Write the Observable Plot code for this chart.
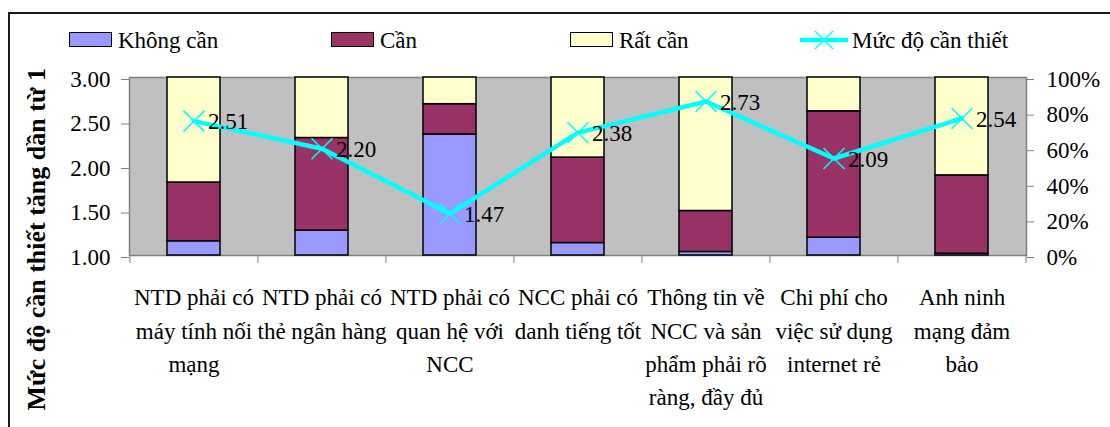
<!DOCTYPE html>
<html>
<head>
<meta charset="utf-8">
<script src="https://cdn.jsdelivr.net/npm/d3@7"></script>
<script src="https://cdn.jsdelivr.net/npm/@observablehq/plot@0.6"></script>
<style>
  body { margin: 0; background: #fff; }
  #wrap { position: relative; width: 1110px; height: 427px; overflow: hidden;
          font-family: "Liberation Serif", "Times New Roman", serif; color: #000; }
  #border { position: absolute; left: 8px; top: 12px; right: -10px; bottom: -10px;
            border-left: 2px solid #1a1a1a; border-top: 2px solid #1a1a1a;
            pointer-events: none; z-index: 2; }
  #legend { position: relative; height: 60px; font-size: 23px; }
  #legend .sw { position: absolute; top: 32px; width: 43px; height: 15px;
                box-sizing: border-box; border: 1.5px solid #000; }
  #legend .lb { position: absolute; top: 29px; line-height: 1; white-space: nowrap; }
  #legend svg { position: absolute; }
  #chart svg { display: block; overflow: visible; }
</style>
</head>
<body>
<div id="wrap">
  <div id="border"></div>
  <div id="legend"></div>
  <div id="chart"></div>
</div>
<script>
// Categories (x axis) – line breaks as laid out under each column
const categories = [
  "NTD phải có\nmáy tính nối\nmạng",
  "NTD phải có\nthẻ ngân hàng",
  "NTD phải có\nquan hệ với\nNCC",
  "NCC phải có\ndanh tiếng tốt",
  "Thông tin về\nNCC và sản\nphẩm phải rõ\nràng, đầy đủ",
  "Chi phí cho\nviệc sử dụng\ninternet rẻ",
  "Anh ninh\nmạng đảm\nbảo"
];

// Share of answers per level (percent, right axis)
const khongCan = [8, 14, 68, 7, 2, 10, 1];
const can      = [33, 52, 17, 48, 23, 71, 44];
const ratCan   = [59, 34, 15, 45, 75, 19, 55];

// Average necessity score, 1 to 3 (left axis)
const mucDo = [2.51, 2.20, 1.47, 2.38, 2.73, 2.09, 2.54];

const levels = ["Không cần", "Cần", "Rất cần"];
const levelColors = ["#9999FF", "#993366", "#FFFFCC"];
const lineName = "Mức độ cần thiết";
const lineColor = "#00FFFF";

const leftTicks = [1.0, 1.5, 2.0, 2.5, 3.0];
const rightTicks = [0, 20, 40, 60, 80, 100];
const axisTitle = "Mức độ cần thiết tăng dần từ 1";

// Both axes share one vertical scale in percent; scores 1..3 map onto 0..100
const toPct = v => (v - 1) / 2 * 100;
const fromPct = p => 1 + p / 50;

const series = [khongCan, can, ratCan];
const stacked = categories.flatMap((c, i) =>
  levels.map((lv, j) => ({cat: c, level: lv, pct: series[j][i]})));
const points = categories.map((c, i) => ({cat: c, v: mucDo[i]}));

// Legend
const legend = document.getElementById("legend");
const legendItems = [
  {x: 69, label: levels[0], color: levelColors[0]},
  {x: 331, label: levels[1], color: levelColors[1]},
  {x: 570, label: levels[2], color: levelColors[2]}
];
for (const it of legendItems) {
  const sw = document.createElement("div");
  sw.className = "sw";
  sw.style.left = it.x + "px";
  sw.style.background = it.color;
  legend.appendChild(sw);
  const lb = document.createElement("span");
  lb.className = "lb";
  lb.style.left = (it.x + 49) + "px";
  lb.textContent = it.label;
  legend.appendChild(lb);
}
{
  const ns = "http://www.w3.org/2000/svg";
  const s = document.createElementNS(ns, "svg");
  s.setAttribute("width", 50); s.setAttribute("height", 22);
  s.style.left = "799px"; s.style.top = "29px";
  s.innerHTML = `<line x1="1" x2="49" y1="11" y2="11" stroke="${lineColor}" stroke-width="4.5"/>
    <path d="M16,2L34,20M16,20L34,2" stroke="${lineColor}" stroke-width="1.5" fill="none"/>`;
  legend.appendChild(s);
  const lb = document.createElement("span");
  lb.className = "lb";
  lb.style.left = "852px";
  lb.textContent = lineName;
  legend.appendChild(lb);
}

// Chart
const W = 1110, H = 367;
const mL = 129, mR = 84, mT = 17, mB = 172;
const step = (W - mL - mR) / categories.length;
const font = '"Liberation Serif", "Times New Roman", serif';

const chart = Plot.plot({
  width: W,
  height: H,
  marginLeft: mL,
  marginRight: mR,
  marginTop: mT,
  marginBottom: mB,
  style: {fontFamily: font, fontSize: "23px", background: "white", color: "black", overflow: "visible"},
  x: {domain: categories, paddingInner: 0.586, paddingOuter: 0.293, axis: null},
  y: {domain: [0, 100], axis: null},
  color: {domain: levels, range: levelColors},
  marks: [
    Plot.frame({fill: "#C0C0C0", stroke: "#808080", strokeWidth: 1.5}),
    Plot.barY(stacked, {x: "cat", y: "pct", fill: "level", stroke: "black", strokeWidth: 1.5}),
    Plot.axisY({anchor: "left", ticks: leftTicks.map(toPct), tickFormat: d => fromPct(d).toFixed(2),
                tickSize: 8, tickPadding: 11, stroke: "#808080", fill: "black", dy: 2, label: null}),
    Plot.axisY({anchor: "right", ticks: rightTicks, tickFormat: d => d + "%",
                tickSize: 7, tickPadding: 13, stroke: "#808080", fill: "black", dy: 2, label: null}),
    // boundary ticks between the columns
    Plot.axisX({tickSize: 8, tickFormat: () => "", dx: -step / 2, stroke: "#808080", label: null}),
    Plot.axisX([categories[categories.length - 1]], {tickSize: 8, tickFormat: () => "", dx: step / 2, stroke: "#808080", label: null}),
    // category labels
    Plot.text(categories, {x: d => d, text: d => d, frameAnchor: "bottom", lineAnchor: "top",
                           lineHeight: 1.45, dy: 26, fill: "black"}),
    // average score line
    Plot.line(points, {x: "cat", y: d => toPct(d.v), stroke: lineColor, strokeWidth: 4.5}),
    Plot.dot(points, {x: "cat", y: d => toPct(d.v), symbol: "times", r: 9.6, stroke: lineColor, strokeWidth: 1.5}),
    Plot.text(points, {x: "cat", y: d => toPct(d.v), text: d => d.v.toFixed(2), textAnchor: "start",
                       dx: 14, dy: 1, fill: "black"}),
    // left axis title
    Plot.text([axisTitle], {text: d => d, frameAnchor: "bottom-left", rotate: -90, textAnchor: "start",
                            dx: -85, dy: 155, fontWeight: "bold", fontSize: 26, fill: "black"})
  ]
});
document.getElementById("chart").appendChild(chart);
</script>
</body>
</html>
